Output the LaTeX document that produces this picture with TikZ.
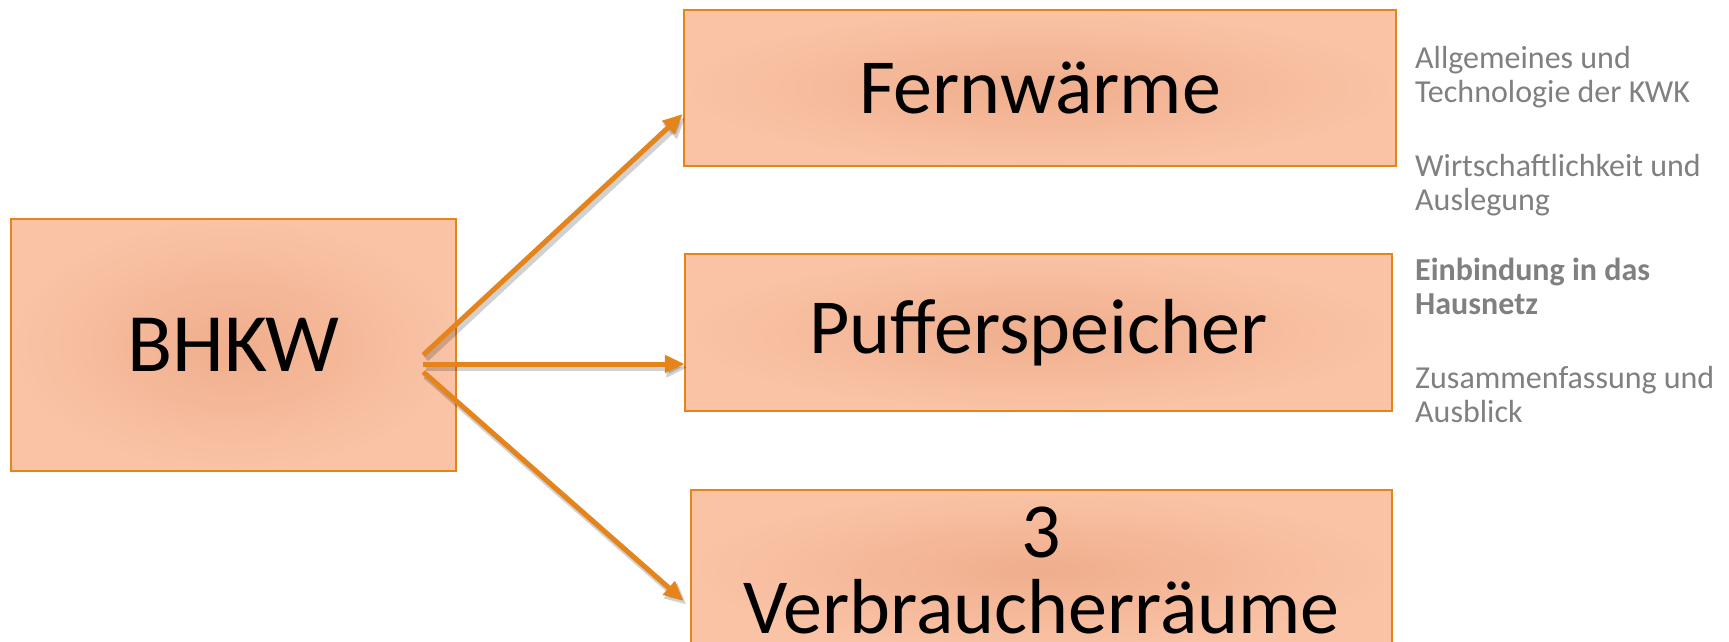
\documentclass[tikz,border=0pt]{standalone}
\usepackage{fontspec}
\setmainfont{Carlito}
\usetikzlibrary{arrows.meta,calc}
\definecolor{boxline}{HTML}{E6841C}
\definecolor{boxin}{HTML}{EFAE8D}
\definecolor{boxout}{HTML}{FAC3A6}
\definecolor{sidegray}{HTML}{808080}
\begin{document}
\begin{tikzpicture}[x=1pt,y=-1pt,
  box/.style={rectangle, draw=boxline, line width=2.5pt, inner color=boxin, outer color=boxout,
    align=center, inner sep=0pt, font=\fontsize{78}{76}\selectfont},
  conn/.style={draw=boxline, line width=5pt, -{Triangle[length=20pt,width=17pt]}},
  connshadow/.style={draw=black, opacity=0.18, line width=7pt, -{Triangle[length=21pt,width=19pt]},
    transform canvas={shift={(2.5pt,-3.5pt)}}},
  side/.style={anchor=base west, align=left, inner sep=0pt, text=sidegray,
    font=\fontsize{32}{34}\selectfont}
]
\useasboundingbox (0,0) rectangle (1729,641);
\clip (0,0) rectangle (1729,641);
\fill[white] (0,0) rectangle (1729,641);

\node[box, minimum width=445pt, minimum height=252pt, font=\fontsize{83}{80}\selectfont] (bhkw) at (233.5,345) {BHKW};
\node[box, minimum width=712pt, minimum height=156pt] (fern) at (1040,88) {Fernwärme};
\node[box, minimum width=707pt, minimum height=157pt] (puff) at (1038.5,332.5) {Pufferspeicher};
\node[box, minimum width=701pt, minimum height=160pt] (verb) at (1041.5,570) {3\\Verbraucherräume};

\coordinate (s1) at ($(bhkw.east)+(-34,10)$);
\coordinate (s2) at ($(bhkw.east)+(-34,19)$);
\coordinate (s3) at ($(bhkw.east)+(-34,27)$);
\coordinate (e1) at ($(fern.west)+(0,26)$);
\coordinate (e2) at ($(puff.west)+(1,31.5)$);
\coordinate (e3) at ($(verb.west)+(-6,31)$);

\foreach \a/\b in {s1/e1,s2/e2,s3/e3}{
  \draw[connshadow] (\a) -- (\b);
}
\foreach \a/\b in {s1/e1,s2/e2,s3/e3}{
  \draw[conn] (\a) -- (\b);
}

\node[side] (t1) at (1415,102) {Allgemeines und\\Technologie der KWK};
\node[side] (t2) at (1415,210) {Wirtschaftlichkeit und\\Auslegung};
\node[side, font=\fontsize{32}{34}\selectfont\bfseries] (t3) at (1415,314) {Einbindung in das\\Hausnetz};
\node[side] (t4) at (1415,422) {Zusammenfassung und\\Ausblick};
\end{tikzpicture}
\end{document}
